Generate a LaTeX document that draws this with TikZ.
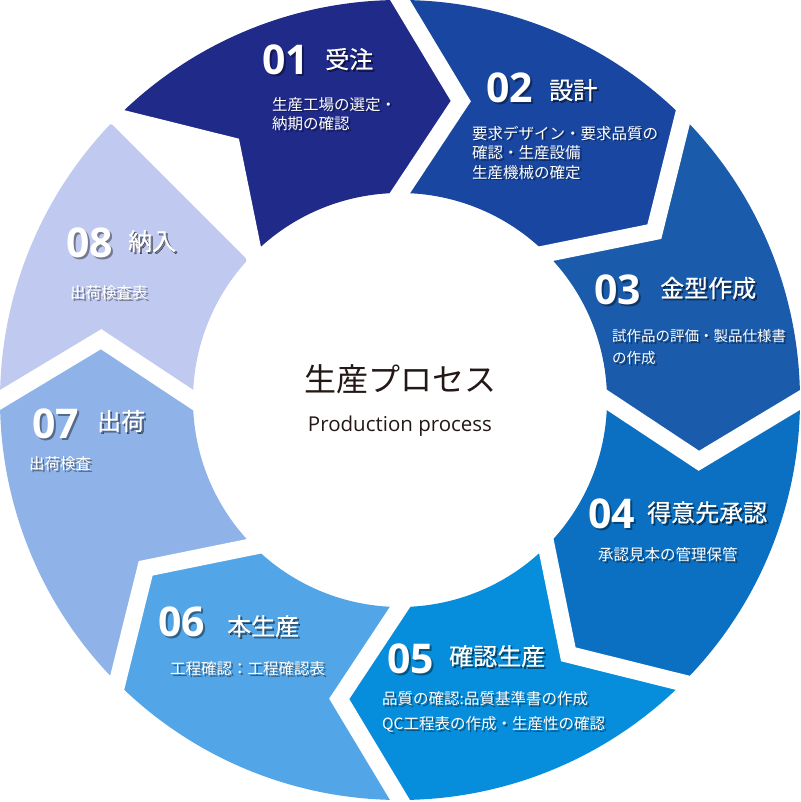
\documentclass[tikz,border=0pt]{standalone}
\usepackage{fontspec}
\usetikzlibrary{calc}
\newfontfamily\jpfont{Noto Sans CJK JP}
\newfontfamily\jpmed[FakeBold=0.5]{Noto Sans CJK JP}
\newfontfamily\numfont{Open Sans}
\definecolor{c1}{HTML}{202A88}
\definecolor{c2}{HTML}{1846A0}
\definecolor{c3}{HTML}{1A5BAB}
\definecolor{c4}{HTML}{0B6FC2}
\definecolor{c5}{HTML}{068EDC}
\definecolor{c6}{HTML}{52A5E6}
\definecolor{c7}{HTML}{8FB3E8}
\definecolor{c8}{HTML}{C0CAF0}
\definecolor{cdark}{HTML}{231815}
\newcommand\sh[1]{\rlap{\kern1.8pt\raisebox{-1.8pt}{\pgfsetfillopacity{0.4}\color{black}#1\pgfsetfillopacity{1}}}#1}
\begin{document}
\begin{tikzpicture}[x=1pt,y=1pt,
  gapline/.style={draw=white,line width=17pt,line join=miter,line cap=butt},
  numtxt/.style={font=\numfont\bfseries\fontsize{41}{41}\selectfont,text=white,inner sep=0pt,anchor=west},
  ttltxt/.style={font=\jpmed\fontsize{24}{24}\selectfont,text=white,inner sep=0pt,anchor=west},
  bdytxt/.style={font=\jpfont\fontsize{15.5}{19.5}\selectfont,text=white,inner sep=0pt,anchor=west,align=left},
]
\useasboundingbox (0,0) rectangle (800,802);
\coordinate (C) at (400,402);
\def\Ro{400}\def\Ri{207}\def\Rm{305}\def\Dn{11.5}
% segments 1..7
\foreach \k/\col in {1/c1,2/c2,3/c3,4/c4,5/c5,6/c6,7/c7}{
  \pgfmathsetmacro\s{135-45*(\k-1)}
  \pgfmathsetmacro\e{\s-45}
  \pgfmathsetmacro\tp{\e-\Dn}
  \pgfmathsetmacro\nt{\s-\Dn}
  \fill[\col,shift={(C)}] (\s:\Ro pt) arc[start angle=\s,end angle=\e,radius=\Ro pt]
     -- (\tp:\Rm pt) -- (\e:\Ri pt) arc[start angle=\e,end angle=\s,radius=\Ri pt]
     -- (\nt:\Rm pt) -- cycle;
}
% segment 8 (no arrow tip)
\fill[c8,shift={(C)}] (180:\Ro pt) arc[start angle=180,end angle=135,radius=\Ro pt]
   -- (135:\Ri pt) arc[start angle=135,end angle=180,radius=\Ri pt]
   -- (168.5:\Rm pt) -- cycle;
% white gaps
\foreach \b in {135,90,45,0,-45,-90,-135,-180}{
  \pgfmathsetmacro\tb{\b-\Dn}
  \coordinate (ga) at ($(C)+(\b:\Ro pt)$);
  \coordinate (gt) at ($(C)+(\tb:\Rm pt)$);
  \coordinate (gb) at ($(C)+(\b:\Ri pt)$);
  \draw[gapline] ($(gt)!1.2!(ga)$) -- (gt) -- ($(gt)!1.2!(gb)$);
}
\draw[gapline] ($(C)+(135:190pt)$) -- ($(C)+(135:420pt)$);
% centre
\node[font=\jpfont\fontsize{32}{32}\selectfont,text=cdark,inner sep=0pt] (ctitle) at (400,423) {生産プロセス};
\node[font=\numfont\fontsize{20.5}{20.5}\selectfont,text=cdark,inner sep=0pt,anchor=base] (csub) at (400,370) {Production process};
% 01
\node[numtxt] (n1) at (262,741) {\sh{01}};
\node[ttltxt] (t1) at (325,742) {\sh{受注}};
\node[bdytxt] (b1) at (272,687) {\sh{生産工場の選定・}\\\sh{納期の確認}};
% 02
\node[numtxt] (n2) at (486,713.5) {\sh{02}};
\node[ttltxt] (t2) at (549,711) {\sh{設計}};
\node[bdytxt] (b2) at (472,648.5) {\sh{要求デザイン・要求品質の}\\\sh{確認・生産設備}\\\sh{生産機械の確定}};
% 03
\node[numtxt] (n3) at (594,511) {\sh{03}};
\node[ttltxt] (t3) at (660,513) {\sh{金型作成}};
\node[bdytxt,font=\jpfont\fontsize{14.5}{22.5}\selectfont] (b3) at (612,454) {\sh{試作品の評価・製品仕様書}\\\sh{の作成}};
% 04
\node[numtxt] (n4) at (588,287) {\sh{04}};
\node[ttltxt] (t4) at (647,288.5) {\sh{得意先承認}};
\node[bdytxt] (b4) at (598,246.5) {\sh{承認見本の管理保管}};
% 05
\node[numtxt] (n5) at (387,142) {\sh{05}};
\node[ttltxt] (t5) at (449,145) {\sh{確認生産}};
\node[bdytxt,font=\jpfont\fontsize{15.5}{25}\selectfont] (b5) at (382,89.5) {\sh{品質の確認:品質基準書の作成}\\\sh{QC工程表の作成・生産性の確認}};
% 06
\node[numtxt] (n6) at (158,179) {\sh{06}};
\node[ttltxt] (t6) at (227,175) {\sh{本生産}};
\node[bdytxt] (b6) at (170,132) {\sh{工程確認：工程確認表}};
% 07
\node[numtxt] (n7) at (32,377) {\sh{07}};
\node[ttltxt] (t7) at (97,380) {\sh{出荷}};
\node[bdytxt] (b7) at (29,337) {\sh{出荷検査}};
% 08
\node[numtxt] (n8) at (66,558) {\sh{08}};
\node[ttltxt] (t8) at (128,560) {\sh{納入}};
\node[bdytxt] (b8) at (70,508) {\sh{出荷検査表}};
\end{tikzpicture}
\end{document}
